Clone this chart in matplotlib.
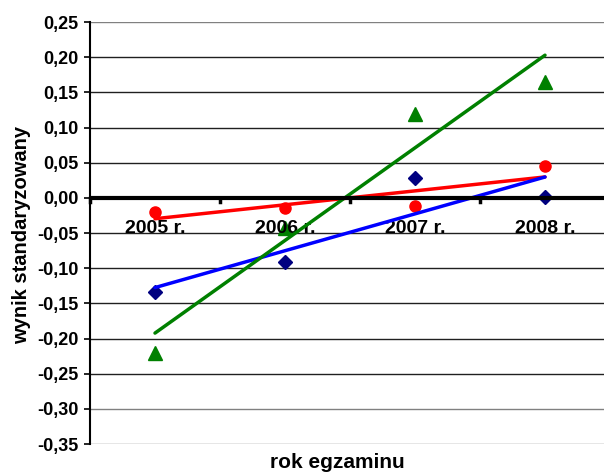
import numpy as np
import matplotlib
matplotlib.use("Agg")
import matplotlib.pyplot as plt
from matplotlib.ticker import FuncFormatter

categories = ["2005 r.", "2006 r.", "2007 r.", "2008 r."]
red_vals = [-0.020, -0.014, -0.011, 0.045]
blue_vals = [-0.134, -0.091, 0.028, 0.001]
green_vals = [-0.220, -0.043, 0.119, 0.165]
yticks = [0.25, 0.20, 0.15, 0.10, 0.05, 0.00, -0.05, -0.10, -0.15, -0.20, -0.25, -0.30, -0.35]

plt.rcParams['font.family'] = ['Liberation Sans', 'DejaVu Sans']
plt.rcParams['font.weight'] = 'bold'

fig = plt.figure(figsize=(6.04, 4.72), dpi=100)
ax = fig.add_axes([90/604, 28/472, 520/604, 422/472])

x = np.arange(1, len(categories) + 1)
ax.set_xlim(0.5, 4.5)
ax.set_ylim(-0.35, 0.25)

# gridlines
for v in yticks:
    if abs(v) < 1e-9:
        continue
    col = '#808080' if v in (0.25, -0.30, -0.35) else '#202020'
    ax.axhline(v, color=col, lw=1.0, zorder=1)

# markers
ax.plot(x, red_vals, 'o', color='#FF0000', ms=8, mec='#FF0000', zorder=2, ls='none')
ax.plot(x, blue_vals, 'D', color='#000080', ms=7.5, mec='#000080', zorder=2, ls='none')
ax.plot(x, green_vals, '^', color='#008000', ms=9.5, mec='#008000', zorder=2, ls='none')

# category labels
for xi, lab in zip(x, categories):
    ax.text(xi, -0.0435, lab, ha='center', va='center', fontsize=14, fontweight='bold', zorder=3)

# trend lines
for vals, col in [(red_vals, '#FF0000'), (blue_vals, '#0000FF'), (green_vals, '#008000')]:
    p = np.polyfit(x, vals, 1)
    xx = np.array([x[0], x[-1]])
    ax.plot(xx, np.polyval(p, xx), color=col, lw=2.5, zorder=4, solid_capstyle='round')

# zero axis
ax.axhline(0, color='black', lw=3, zorder=5)
ax.spines['bottom'].set_visible(False)
ax.spines['top'].set_visible(False)
ax.spines['right'].set_visible(False)
ax.spines['left'].set_linewidth(1.5)
ax.spines['left'].set_color('black')

# tick marks on zero axis between categories
for b in [0.5, 1.5, 2.5, 3.5]:
    ax.plot([b, b], [0, -0.006], color='black', lw=2.5, zorder=5, clip_on=False)
ax.set_xticks([])

ax.set_yticks(yticks)
ax.yaxis.set_major_formatter(FuncFormatter(lambda v, p: f"{v:.2f}".replace('.', ',').replace('-0,00', '0,00')))
ax.tick_params(axis='y', length=4, width=1.2, pad=4.5, labelsize=13, direction='out')
for t in ax.get_yticklabels():
    t.set_fontweight('bold')

fig.text(22/604, 1 - 235/472, "wynik standaryzowany", rotation=90, ha='center', va='center',
         fontsize=14.5, fontweight='bold')
fig.text(337/604, 1 - 463/472, "rok egzaminu", ha='center', va='center', fontsize=15, fontweight='bold')

fig.savefig("out.png", dpi=100)
